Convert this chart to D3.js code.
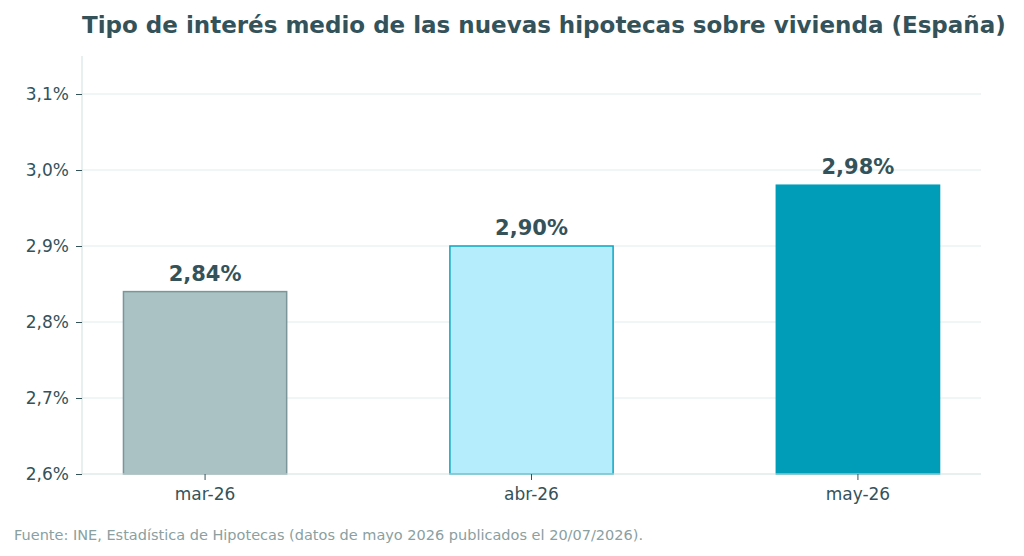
<!DOCTYPE html>
<html>
<head>
<meta charset="utf-8">
<script src="https://cdn.jsdelivr.net/npm/d3@7"></script>
<style>
  body { margin: 0; background: #fff; }
  svg { font-family: "DejaVu Sans", sans-serif; }
</style>
</head>
<body>
<div id="chart"></div>
<script>
// ------------------------------------
// Data
// ------------------------------------
const months = ["mar-26", "abr-26", "may-26"];
const rates = [2.84, 2.90, 2.98];
const yTicks = [2.6, 2.7, 2.8, 2.9, 3.0, 3.1];
const barFills = ["#aac2c4", "#b6edfd", "#009db8"];
const barStrokes = ["#7a9699", "#0ca6c2", "#009db8"];

const width = 1024, height = 556;
const margin = { top: 56, right: 43, bottom: 82, left: 82 };
const ink = "#34525a";

const svg = d3.select("#chart")
  .append("svg")
  .attr("width", width)
  .attr("height", height);

// Scales
const x = d3.scaleBand()
  .domain(months)
  .range([margin.left, width - margin.right])
  .paddingInner(0.5)
  .paddingOuter(0.127);

const y = d3.scaleLinear()
  .domain([2.6, 3.15])
  .range([height - margin.bottom, margin.top]);

const fmt = v => d3.format(".1f")(v).replace(".", ",") + "%";

// Gridlines
svg.append("g")
  .selectAll("line")
  .data(yTicks.slice(1))
  .join("line")
  .attr("x1", margin.left)
  .attr("x2", width - margin.right)
  .attr("y1", d => y(d))
  .attr("y2", d => y(d))
  .attr("stroke", "#e2ebeb")
  .attr("stroke-width", 1);

// Bars
svg.append("g")
  .selectAll("rect")
  .data(rates)
  .join("rect")
  .attr("x", (d, i) => x(months[i]))
  .attr("y", d => y(d))
  .attr("width", x.bandwidth())
  .attr("height", d => y(2.6) - y(d))
  .attr("fill", (d, i) => barFills[i])
  .attr("stroke", (d, i) => barStrokes[i])
  .attr("stroke-width", 1.5);

// Value labels
svg.append("g")
  .selectAll("text")
  .data(rates)
  .join("text")
  .attr("x", (d, i) => x(months[i]) + x.bandwidth() / 2)
  .attr("y", d => y(d) - 11)
  .attr("text-anchor", "middle")
  .attr("font-size", 21)
  .attr("font-weight", "bold")
  .attr("fill", ink)
  .text(d => d3.format(".2f")(d).replace(".", ",") + "%");

// Y axis
const yAxis = svg.append("g")
  .attr("transform", `translate(${margin.left},0)`)
  .call(d3.axisLeft(y).tickValues(yTicks).tickFormat(fmt).tickSize(6).tickPadding(7));
yAxis.select(".domain").attr("stroke", "#cfdfe0").attr("d", `M0,${y(2.6)}V${margin.top}`);
yAxis.selectAll(".tick line").attr("stroke", ink);
yAxis.selectAll(".tick text")
  .attr("font-size", 17)
  .attr("font-family", "DejaVu Sans")
  .attr("fill", ink);

// X axis
const xAxis = svg.append("g")
  .attr("transform", `translate(0,${y(2.6)})`)
  .call(d3.axisBottom(x).tickSize(6).tickPadding(8));
xAxis.select(".domain").attr("stroke", "#cfdfe0").attr("d", `M${margin.left},0H${width - margin.right}`);
xAxis.selectAll(".tick line").attr("stroke", ink);
xAxis.selectAll(".tick text")
  .attr("font-size", 17)
  .attr("font-family", "DejaVu Sans")
  .attr("fill", ink);

// Title
svg.append("text")
  .attr("x", 82)
  .attr("y", 33)
  .attr("font-size", 23)
  .attr("font-weight", "bold")
  .attr("fill", ink)
  .text("Tipo de interés medio de las nuevas hipotecas sobre vivienda (España)");

// Source note
svg.append("text")
  .attr("x", 14)
  .attr("y", 540)
  .attr("font-size", 14.5)
  .attr("fill", "#8aa0a1")
  .text("Fuente: INE, Estadística de Hipotecas (datos de mayo 2026 publicados el 20/07/2026).");
</script>
</body>
</html>
